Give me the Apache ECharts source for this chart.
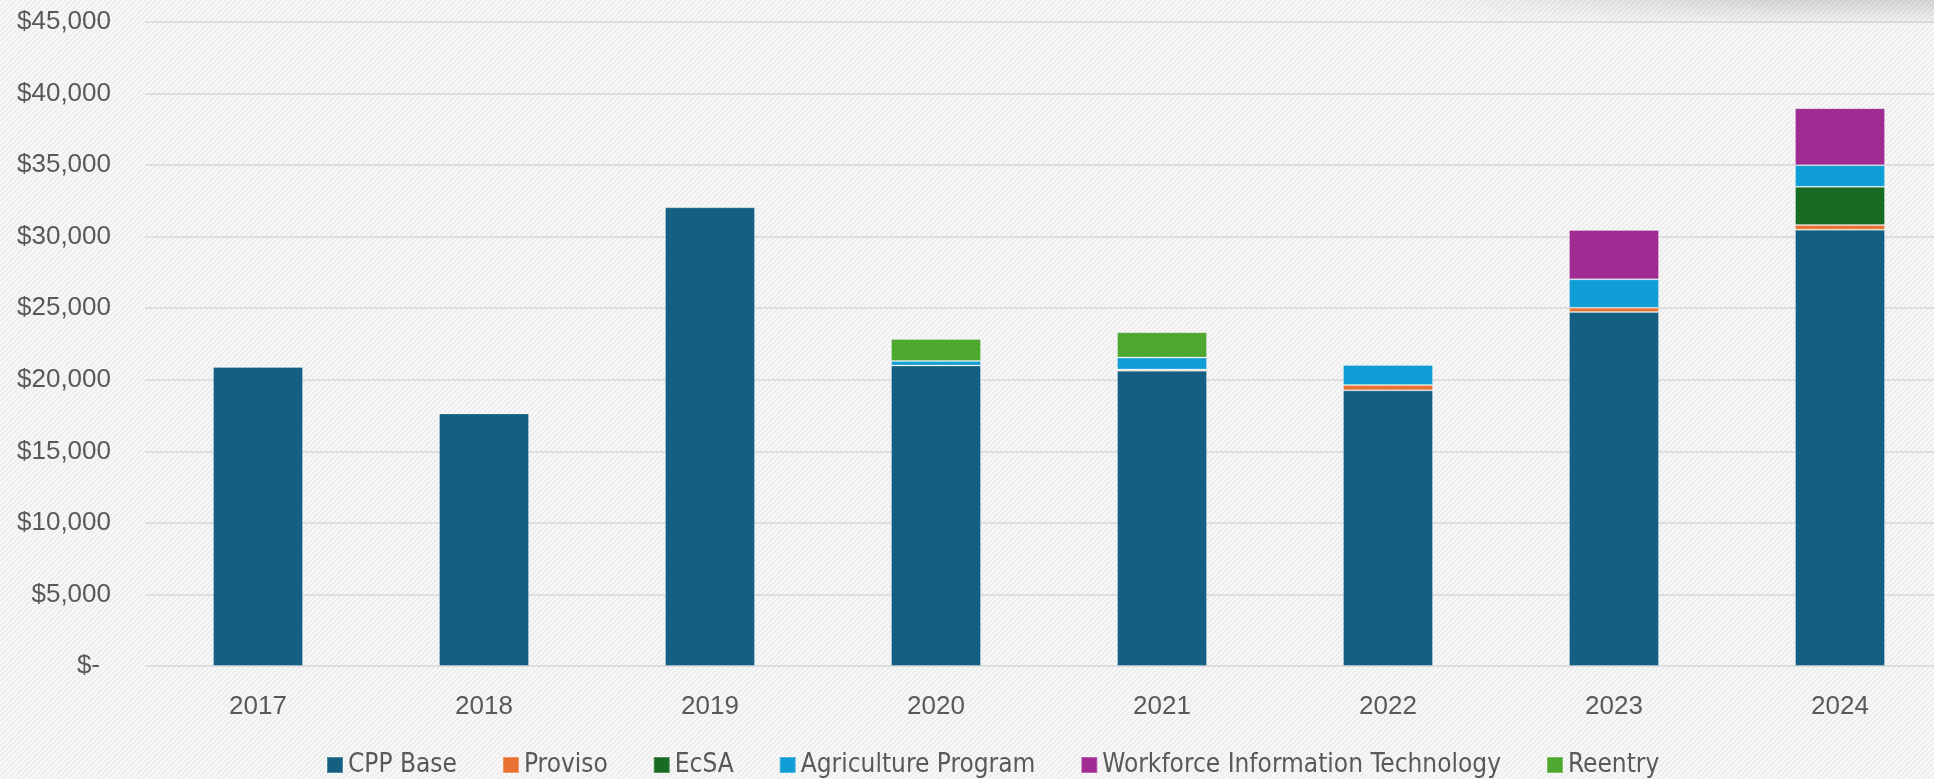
<!DOCTYPE html>
<html>
<head>
<meta charset="utf-8">
<script src="https://cdn.jsdelivr.net/npm/echarts@6/dist/echarts.min.js"></script>
<style>
  html, body { margin: 0; padding: 0; }
  #wrap { position: relative; width: 1934px; height: 779px; overflow: hidden; background-color: #f2f2f2; }
  #chart { position: absolute; left: 0; top: 0; width: 1960px; height: 779px; }
  #shadow { position: absolute; left: 1400px; top: 0; width: 534px; height: 26px; pointer-events: none;
    background: linear-gradient(to bottom, rgba(0,0,0,0.13), rgba(0,0,0,0));
    -webkit-mask-image: linear-gradient(to right, transparent, black 70%);
    mask-image: linear-gradient(to right, transparent, black 70%); }
</style>
</head>
<body>
<div id="wrap">
  <div id="chart"></div>
  <div id="shadow"></div>
</div>
<script>
const years = ['2017', '2018', '2019', '2020', '2021', '2022', '2023', '2024'];
const cppBase     = [20900, 17650, 32050, 21000, 20630, 19260, 24730, 30490];
const proviso     = [null, null, null, null, 80, 370, 300, 330];
const ecsa        = [null, null, null, null, null, null, null, 2660];
const agriculture = [null, null, null, 310, 840, 1400, 1990, 1510];
const wit         = [null, null, null, null, null, null, 3450, 3990];
const reentry     = [null, null, null, 1540, 1770, null, null, null];

const seriesNames = ['CPP Base', 'Proviso', 'EcSA', 'Agriculture Program', 'Workforce Information Technology', 'Reentry'];
const seriesData = [cppBase, proviso, ecsa, agriculture, wit, reentry];
const colors = ['#156082', '#E97132', '#196B24', '#0F9ED5', '#A02B93', '#4EA72E'];

// striped background tile ("/" diagonal hatch)
(function () {
  const s = 5;
  const c = document.createElement('canvas');
  c.width = s; c.height = s;
  const ctx = c.getContext('2d');
  const img = ctx.createImageData(s, s);
  for (let y = 0; y < s; y++) {
    for (let x = 0; x < s; x++) {
      const k = (x + y) % s;
      const v = k === 0 ? 232 : (k === 1 ? 238 : 248);
      const i = (y * s + x) * 4;
      img.data[i] = v; img.data[i + 1] = v; img.data[i + 2] = v; img.data[i + 3] = 255;
    }
  }
  ctx.putImageData(img, 0, 0);
  const w = document.getElementById('wrap');
  w.style.backgroundImage = 'url(' + c.toDataURL() + ')';
  w.style.backgroundRepeat = 'repeat';
})();

const chart = echarts.init(document.getElementById('chart'), null, { renderer: 'canvas' });
const textColor = '#595959';

chart.setOption({
  backgroundColor: 'transparent',
  animation: false,
  color: colors,
  grid: { left: 145, top: 22, right: 7, bottom: 113, containLabel: false },
  legend: {
    left: 321, top: 747,
    itemWidth: 16, itemHeight: 16, itemGap: 45,
    icon: 'rect',
    textStyle: { color: textColor, fontSize: 26, fontFamily: '"Liberation Sans Narrow", "DejaVu Sans Condensed", "Liberation Sans", Arial, sans-serif' },
    data: seriesNames
  },
  xAxis: {
    type: 'category',
    data: years,
    axisLine: { show: false },
    axisTick: { show: false },
    axisLabel: { color: textColor, fontSize: 26, fontFamily: '"Liberation Sans", Arial, sans-serif', margin: 28 }
  },
  yAxis: {
    type: 'value',
    min: 0, max: 45000, interval: 5000,
    axisLine: { show: false },
    axisTick: { show: false },
    splitLine: { lineStyle: { color: '#d9d9d9', width: 1.5 } },
    axisLabel: {
      color: textColor, fontSize: 26, fontFamily: '"Liberation Sans", Arial, sans-serif', margin: 34,
      formatter: function (v) {
        if (v === 0) return '{z|$-}';
        return '$' + v.toLocaleString('en-US');
      },
      rich: { z: { color: textColor, fontSize: 26, fontFamily: '"Liberation Sans", Arial, sans-serif', padding: [0, 11, 0, 0] } }
    }
  },
  series: seriesNames.map(function (name, i) {
    return {
      name: name,
      type: 'bar',
      stack: 'total',
      barWidth: 90,
      data: seriesData[i],
      itemStyle: { color: colors[i], borderColor: 'rgba(255,255,255,0.25)', borderWidth: 1 }
    };
  })
});
</script>
</body>
</html>
